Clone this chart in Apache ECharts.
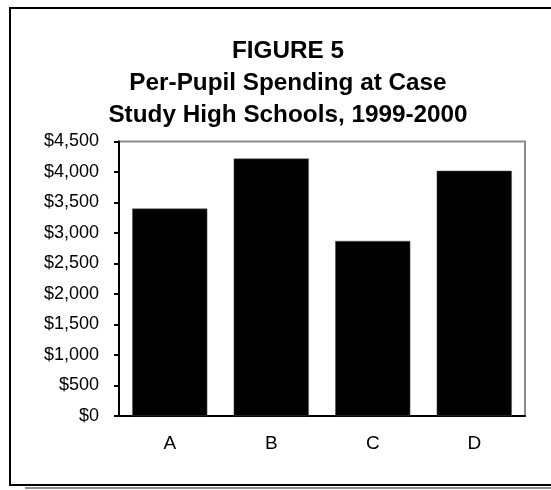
<!DOCTYPE html>
<html>
<head>
<meta charset="utf-8">
<title>Figure 5</title>
<script src="https://cdn.jsdelivr.net/npm/echarts@6/dist/echarts.min.js"></script>
<style>
  html, body {
    margin: 0;
    padding: 0;
    background: #fff;
  }
  .echartbox {
    width: 551px;
    height: 490px;
  }
</style>
</head>
<body>
<div id="barchart" class="echartbox"></div>
<script>
// data
var titleLines = ['FIGURE 5', 'Per-Pupil Spending at Case', 'Study High Schools, 1999-2000']
var schools = ['A', 'B', 'C', 'D']
var spending = [3400, 4220, 2870, 4020]
var yMin = 0
var yMax = 4500
var yStep = 500

var font = "'Liberation Sans', Arial, sans-serif"

var myCharts = echarts.init(document.getElementById('barchart'))
myCharts.setOption({
  animation: false,
  title: {
    text: titleLines.join('\n'),
    left: 288,
    top: 35,
    padding: 0,
    textAlign: 'center',
    textStyle: {
      color: '#000',
      fontFamily: font,
      fontWeight: 'bold',
      fontSize: 24.3,
      lineHeight: 32
    }
  },
  // outer frame with the little shadow under it
  graphic: [
    {
      type: 'rect',
      shape: { x: 25, y: 487, width: 560, height: 2 },
      style: { fill: '#8c8c8c' }
    },
    {
      type: 'rect',
      shape: { x: 10, y: 8, width: 570, height: 477 },
      style: { fill: 'none', stroke: '#000', lineWidth: 2 }
    }
  ],
  grid: {
    left: 119,
    right: 26,
    top: 141.5,
    bottom: 74,
    show: true,
    borderColor: '#8c8c8c',
    borderWidth: 2,
    outerBoundsMode: 'none'
  },
  xAxis: {
    type: 'category',
    data: schools,
    axisLine: {
      lineStyle: { color: '#000', width: 2 }
    },
    axisTick: {
      length: 6,
      lineStyle: { color: '#000', width: 1.5 }
    },
    axisLabel: {
      color: '#000',
      fontFamily: font,
      fontSize: 19,
      margin: 18
    }
  },
  yAxis: {
    type: 'value',
    min: yMin,
    max: yMax,
    interval: yStep,
    splitLine: { show: false },
    axisLine: {
      show: true,
      lineStyle: { color: '#000', width: 2 }
    },
    axisTick: {
      show: true,
      length: 5,
      lineStyle: { color: '#000', width: 2 }
    },
    axisLabel: {
      color: '#000',
      fontFamily: font,
      fontSize: 18,
      margin: 20,
      formatter: function (value) {
        return '$' + value.toLocaleString('en-US')
      }
    }
  },
  series: [
    {
      type: 'bar',
      data: spending,
      barWidth: '74%',
      itemStyle: {
        color: '#000',
        borderColor: '#555',
        borderWidth: 0.5
      }
    }
  ]
})
</script>
</body>
</html>
